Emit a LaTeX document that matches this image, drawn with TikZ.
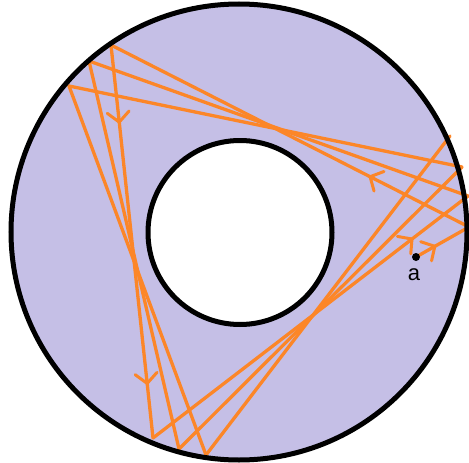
\documentclass[tikz,border=0pt]{standalone}
\usepackage{fontspec}
\setmainfont{Liberation Sans}
\usetikzlibrary{arrows.meta,decorations.markings}
\definecolor{lav}{RGB}{197,191,230}
\definecolor{orng}{RGB}{252,134,40}
\tikzset{
  ring/.style={draw=black,line width=5pt},
  traj/.style={draw=orng,line width=3.3pt,line cap=round,line join=round},
  barb/.tip={Straight Barb[length=10pt,width=22pt,round]},
  arrowat/.style={postaction={decorate},decoration={markings,mark=at position #1 with {\arrow[orng,line width=3pt]{barb}}}},
  twoarrows/.style 2 args={postaction={decorate},decoration={markings,
     mark=at position #1 with {\arrow[orng,line width=3pt]{barb}},
     mark=at position #2 with {\arrow[orng,line width=3pt]{barb}}}},
  label/.style={font=\fontsize{22}{22}\selectfont,text=black,inner sep=0pt}
}
\begin{document}
\begin{tikzpicture}[x=1pt,y=-1pt]
\useasboundingbox (0,0) rectangle (469,463);
% annulus
\coordinate (O) at (239,232);
\coordinate (I) at (240,232.5);
\fill[lav] (O) circle[radius=228pt];
\fill[white] (I) circle[radius=92pt];
% bounce points
\coordinate (a)  at (416,257);
\coordinate (R1) at (450,136);
\coordinate (R2) at (462,167);
\coordinate (R3) at (468,196);
\coordinate (R4) at (469,227);
\coordinate (P1) at (111,45);
\coordinate (P2) at (89,61);
\coordinate (P3) at (69,86);
\coordinate (B1) at (153,438);
\coordinate (B2) at (179,449);
\coordinate (B3) at (206,455);
% trajectory
\draw[traj,arrowat=0.38] (a) -- (R4);
\draw[traj,arrowat=0.28] (R4) -- (P1);
\draw[traj,twoarrows={0.2}{0.865}] (P1) -- (B1);
\draw[traj,arrowat=0.826] (B1) -- (R3);
\draw[traj] (R3) -- (P2);
\draw[traj] (P2) -- (B2);
\draw[traj] (B2) -- (R2);
\draw[traj] (R2) -- (P3);
\draw[traj] (P3) -- (B3);
\draw[traj] (B3) -- (R1);
% rings
\draw[ring] (O) circle[radius=228pt];
\draw[ring] (I) circle[radius=92pt];
% point a
\fill[black] (a) circle[radius=4pt];
\node[label] (la) at (414,275) {a};
\end{tikzpicture}
\end{document}
